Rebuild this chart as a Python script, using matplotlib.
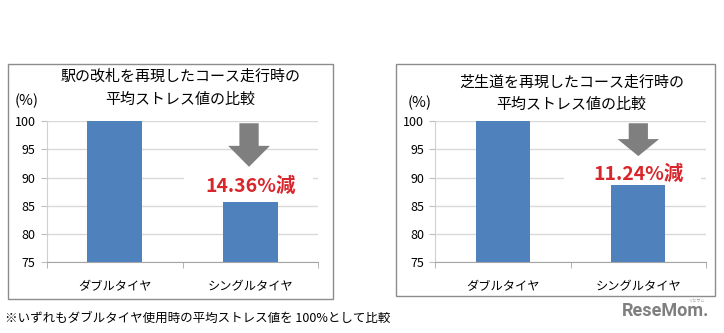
import matplotlib
matplotlib.use("Agg")
import matplotlib.pyplot as plt
from matplotlib.patches import Rectangle, Polygon

plt.rcParams['font.family'] = ['Noto Sans CJK JP', 'DejaVu Sans']

W, H = 724, 333

# data
categories = ['ダブルタイヤ', 'シングルタイヤ']
gate_values = [100.0, 85.64]
grass_values = [100.0, 88.76]
gate_title = '駅の改札を再現したコース走行時の\n平均ストレス値の比較'
grass_title = '芝生道を再現したコース走行時の\n平均ストレス値の比較'
gate_label = '14.36%減'
grass_label = '11.24%減'
y_ticks = [75, 80, 85, 90, 95, 100]
footnote = '※いずれもダブルタイヤ使用時の平均ストレス値を 100%として比較'

BAR = '#4f81bd'
RED = '#d9262c'
GRID = '#d9d9d9'


def fx(x):
    return x / W


def fy(y):
    return 1 - y / H


def draw_arrow(ax, x, top, neck, tip, shaft=0.142, head=0.307):
    pts = [(x - shaft / 2, top), (x + shaft / 2, top), (x + shaft / 2, neck),
           (x + head / 2, neck), (x, tip), (x - head / 2, neck),
           (x - shaft / 2, neck)]
    ax.add_patch(Polygon(pts, closed=True, facecolor='#7f7f7f',
                         edgecolor='none', zorder=4))


def panel(fig, rect, values, label, label_y, mask, arrow):
    ax = fig.add_axes(rect)
    ax.bar(range(len(values)), values, width=0.4, color=BAR, zorder=3)
    ax.set_xlim(-0.5, 1.5)
    ax.set_ylim(75, 100)
    ax.set_yticks(y_ticks)
    ax.set_xticks(range(len(categories)))
    ax.set_xticklabels(categories, fontsize=8.8)
    ax.set_xticks([-0.5, 0.5, 1.5], minor=True)
    ax.tick_params(axis='x', which='major', length=0, pad=13)
    ax.tick_params(axis='x', which='minor', length=4, color='#a6a6a6')
    ax.tick_params(axis='y', length=4, color='#bfbfbf', labelsize=9, pad=4)
    ax.grid(axis='y', color=GRID, linewidth=1, zorder=0)
    for s in ['top', 'right']:
        ax.spines[s].set_visible(False)
    ax.spines['left'].set_color('#d0d0d0')
    ax.spines['bottom'].set_color('#a6a6a6')
    ax.set_axisbelow(True)

    # white text box behind the reduction label
    ax.add_patch(Rectangle((mask[0], label_y - 1.6), mask[1] - mask[0], 3.2,
                           facecolor='white', edgecolor='none', zorder=2))
    ax.text(1, label_y, label, color=RED, fontsize=14, fontweight='bold',
            ha='center', va='center', zorder=5)
    draw_arrow(ax, *arrow)
    return ax


fig = plt.figure(figsize=(W / 100, H / 100), dpi=100)

# outer frames
for x0, y0, x1, y1 in [(7.5, 63.5, 333, 299), (396, 63.5, 715, 296)]:
    fig.patches.append(Rectangle((fx(x0), fy(y1)), fx(x1 - x0), (y1 - y0) / H,
                                 transform=fig.transFigure, fill=False,
                                 edgecolor='#8c8c8c', linewidth=1))

panel(fig, [fx(46.7), fy(262.3), fx(318.3 - 46.7), 141.3 / H],
      gate_values, gate_label, 88.5, (0.51, 1.46), (0.99, 99.6, 95.6, 91.9))
panel(fig, [fx(435.3), fy(262.3), fx(706 - 435.3), 141.3 / H],
      grass_values, grass_label, 90.6, (0.45, 1.46), (1.0, 99.6, 96.8, 93.8))

# titles
for (x, y1, y2, title) in [(180.5, 76.7, 100, gate_title), (571.5, 82.7, 105, grass_title)]:
    l1, l2 = title.split('\n')
    fig.text(fx(x), fy(y1), l1, ha='center', va='center', fontsize=10.8)
    fig.text(fx(x), fy(y2), l2, ha='center', va='center', fontsize=10.8)
fig.text(fx(26.5), fy(101), '(%)', ha='center', va='center', fontsize=10.8)
fig.text(fx(420), fy(103.3), '(%)', ha='center', va='center', fontsize=10.8)

fig.text(fx(5), fy(318), footnote, ha='left', va='center', fontsize=9)

# site logo
fig.text(fx(666), fy(311.5), 'ReseMom.', ha='center', va='center',
         fontsize=13, fontweight='bold', color='#7f7f7f', family=['Roboto', 'DejaVu Sans'])
fig.text(fx(696), fy(301), 'リセマム', ha='center', va='center',
         fontsize=3, color='#9a9a9a')

fig.savefig('out.png', dpi=100)
